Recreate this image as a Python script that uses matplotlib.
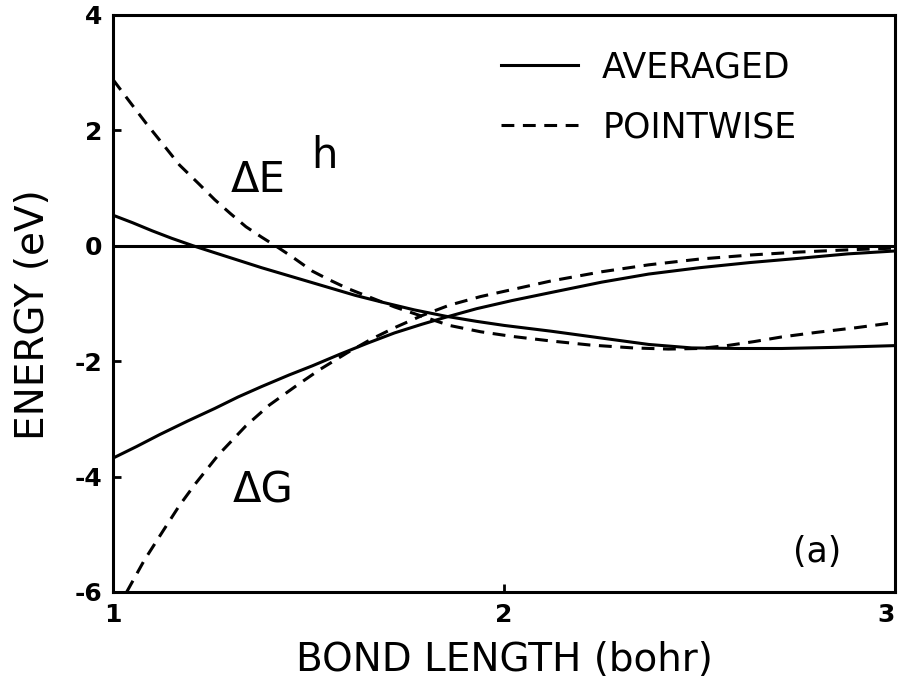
import numpy as np
import matplotlib
matplotlib.use('Agg')
import matplotlib.pyplot as plt

# ---- data ----
# Delta E^h, pointwise (dashed)
de_pw_x = [1.00, 1.04, 1.085, 1.13, 1.17, 1.22, 1.26, 1.30, 1.34, 1.38, 1.42, 1.46, 1.51, 1.55,
           1.60, 1.66, 1.72, 1.79, 1.86, 1.94, 2.02, 2.12, 2.22, 2.33, 2.42, 2.50, 2.57, 2.64,
           2.71, 2.80, 2.90, 3.00]
de_pw_y = [2.88, 2.52, 2.12, 1.74, 1.40, 1.07, 0.80, 0.56, 0.33, 0.15, -0.02, -0.20, -0.44, -0.58,
           -0.74, -0.90, -1.06, -1.22, -1.38, -1.49, -1.57, -1.65, -1.72, -1.77, -1.79, -1.78, -1.73, -1.66,
           -1.58, -1.50, -1.42, -1.33]
# Delta E^h, averaged (solid)
de_av_x = [1.00, 1.05, 1.10, 1.15, 1.205, 1.26, 1.32, 1.38, 1.43, 1.50, 1.56, 1.62, 1.69, 1.77,
           1.85, 1.93, 2.00, 2.12, 2.25, 2.37, 2.48, 2.60, 2.71, 2.85, 3.00]
de_av_y = [0.53, 0.40, 0.26, 0.13, 0.00, -0.12, -0.25, -0.38, -0.48, -0.62, -0.74, -0.86, -0.98, -1.11,
           -1.22, -1.31, -1.38, -1.48, -1.60, -1.71, -1.77, -1.78, -1.78, -1.76, -1.73]
# Delta G, averaged (solid)
dg_av_x = [1.00, 1.06, 1.12, 1.19, 1.26, 1.32, 1.38, 1.45, 1.51, 1.58, 1.65, 1.72, 1.79, 1.85,
           1.93, 2.02, 2.12, 2.25, 2.37, 2.50, 2.63, 2.75, 2.88, 3.00]
dg_av_y = [-3.68, -3.48, -3.27, -3.04, -2.82, -2.62, -2.44, -2.24, -2.08, -1.88, -1.69, -1.51, -1.36, -1.24,
           -1.09, -0.95, -0.81, -0.63, -0.49, -0.38, -0.29, -0.22, -0.14, -0.09]
# Delta G, pointwise (dashed)
dg_pw_x = [1.035, 1.08, 1.13, 1.17, 1.21, 1.27, 1.34, 1.40, 1.47, 1.53, 1.60, 1.66, 1.72, 1.79,
           1.86, 1.94, 2.02, 2.12, 2.25, 2.37, 2.50, 2.63, 2.75, 2.88, 3.00]
dg_pw_y = [-6.00, -5.45, -4.92, -4.50, -4.13, -3.62, -3.12, -2.76, -2.42, -2.14, -1.85, -1.62, -1.42, -1.21,
           -1.03, -0.88, -0.76, -0.61, -0.45, -0.33, -0.23, -0.16, -0.11, -0.07, -0.04]

plt.rcParams['font.family'] = ['DejaVu Sans']
plt.rcParams['axes.unicode_minus'] = False

fig = plt.figure(figsize=(8.99, 6.87), dpi=100)
ax = fig.add_axes([0.1257, 0.1383, 0.8699, 0.8399])

lw = 2.2
dash = (4.2, 2.8)
ax.axhline(0, color='black', lw=lw)
ax.plot(de_av_x, de_av_y, color='black', lw=lw, label='AVERAGED')
ax.plot(dg_av_x, dg_av_y, color='black', lw=lw)
ax.plot(de_pw_x, de_pw_y, color='black', lw=lw, dashes=dash, label='POINTWISE')
ax.plot(dg_pw_x, dg_pw_y, color='black', lw=lw, dashes=dash)

ax.set_xlim(1, 3)
ax.set_ylim(-6, 4)
ax.set_xticks([1, 2, 3])
ax.set_yticks([-6, -4, -2, 0, 2, 4])
ax.tick_params(direction='in', length=6, width=2, labelsize=18, pad=8)
for lab in ax.get_xticklabels() + ax.get_yticklabels():
    lab.set_fontweight('bold')
ax.get_xticklabels()[-1].set_ha('right')
for s in ax.spines.values():
    s.set_linewidth(2.2)

ax.set_xlabel('BOND LENGTH (bohr)', fontsize=28, labelpad=10)
ax.set_ylabel('ENERGY (eV)', fontsize=28)
ax.yaxis.set_label_coords(-0.078, 0.48)

ax.text(1.302, 0.936, 'ΔE', fontsize=30, va='baseline', ha='left')
ax.text(1.506, 1.35, 'h', fontsize=30, va='baseline', ha='left')
ax.text(1.307, -4.45, 'ΔG', fontsize=30, va='baseline', ha='left')
ax.text(2.80, -5.30, '(a)', fontsize=25, va='center', ha='center')

leg = ax.legend(loc='upper left', bbox_to_anchor=(0.479, 0.963), frameon=False,
                fontsize=25, handlelength=2.2, handletextpad=0.7, labelspacing=0.75,
                borderaxespad=0)

fig.savefig('out.png', dpi=100)
